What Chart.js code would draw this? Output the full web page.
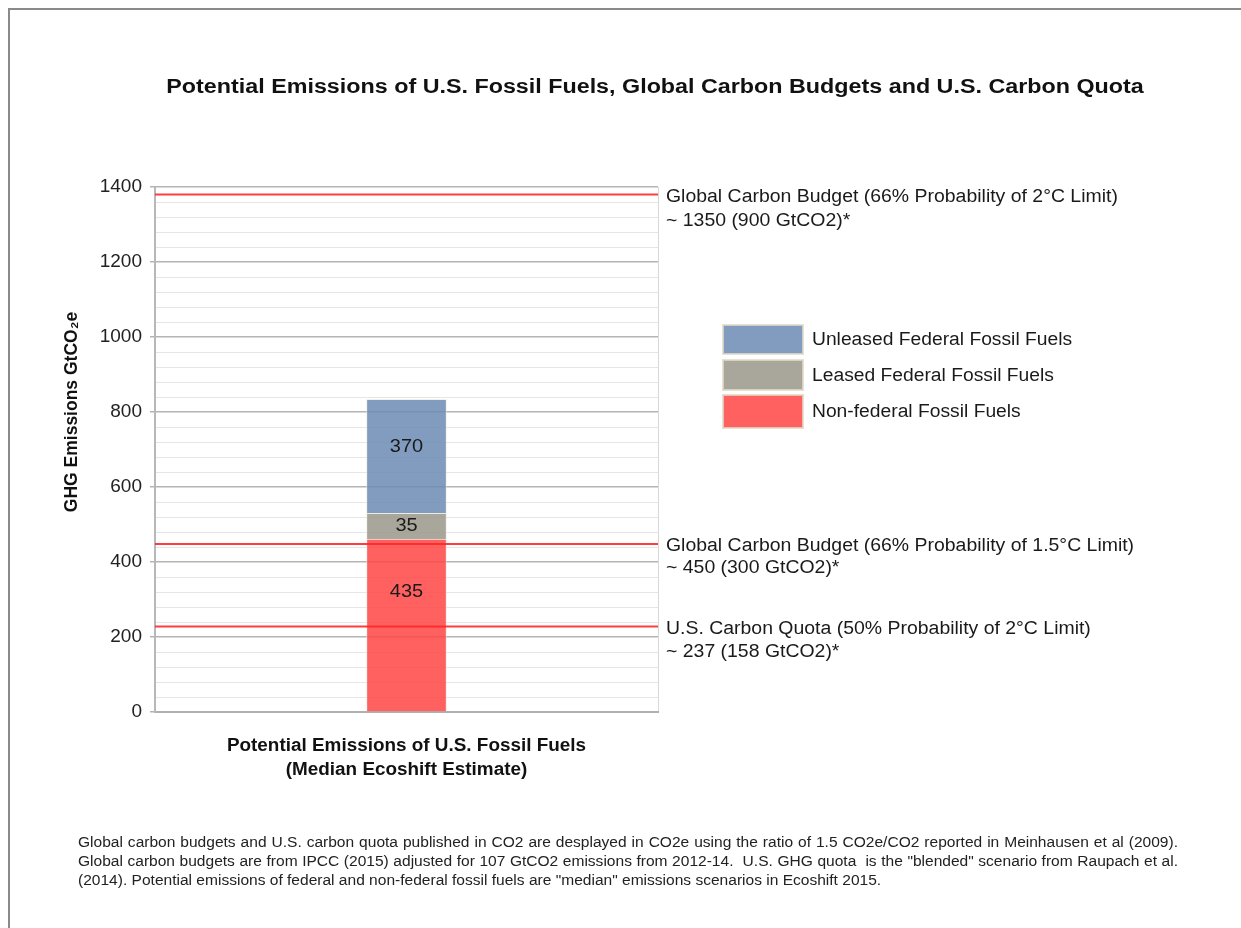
<!DOCTYPE html>
<html>
<head>
<meta charset="utf-8">
<script src="https://cdn.jsdelivr.net/npm/chart.js@4.4.0/dist/chart.umd.min.js"></script>
<style>
  html, body { margin: 0; padding: 0; background: #fff; }
  body { width: 1241px; height: 928px; position: relative; overflow: hidden; font-family: "Liberation Sans", Arial, sans-serif; }
  .frame { position: absolute; left: 8px; top: 8px; right: -10px; bottom: -10px; border-top: 2px solid #8a8a8a; border-left: 2px solid #8a8a8a; }
  #chart { position: absolute; left: 0; top: 0; }
  .note { position: absolute; left: 78px; top: 833px; width: 991px; font-size: 14px; line-height: 19px; color: #222; transform: scaleX(1.11); transform-origin: 0 0; }
  .note div { text-align: justify; text-align-last: justify; white-space: nowrap; }
  .note div.last { text-align-last: left; }
</style>
</head>
<body>
<div class="frame"></div>
<canvas id="chart" width="1241" height="928"></canvas>
<div class="note">
  <div>Global carbon budgets and U.S. carbon quota published in CO2 are desplayed in CO2e using the ratio of 1.5 CO2e/CO2 reported in Meinhausen et al (2009).</div>
  <div>Global carbon budgets are from IPCC (2015) adjusted for 107 GtCO2 emissions from 2012-14.&nbsp; U.S. GHG quota&nbsp; is the "blended" scenario from Raupach et al.</div>
  <div class="last">(2014). Potential emissions of federal and non-federal fossil fuels are "median" emissions scenarios in Ecoshift 2015.</div>
</div>
<script>
// donnees (hauteurs, etiquettes affichees sur les barres)
const categories = ['Potential Emissions of U.S. Fossil Fuels'];
const seriesNames = ['Non-federal Fossil Fuels', 'Leased Federal Fossil Fuels', 'Unleased Federal Fossil Fuels'];
const nonFederal = [461];
const leasedFederal = [69];
const unleasedFederal = [304];
const segmentLabels = ['435', '35', '370'];
const limitValues = [1380, 448, 228];
const limitLabels = [
  ['Global Carbon Budget (66% Probability of 2°C Limit)', '~ 1350 (900 GtCO2)*'],
  ['Global Carbon Budget (66% Probability of 1.5°C Limit)', '~ 450 (300 GtCO2)*'],
  ['U.S. Carbon Quota (50% Probability of 2°C Limit)', '~ 237 (158 GtCO2)*']
];
const yTicks = [0, 200, 400, 600, 800, 1000, 1200, 1400];

const FONT = '"Liberation Sans", Arial, sans-serif';
const barColors = ['rgba(255,68,68,0.85)', 'rgba(154,152,138,0.85)', 'rgba(107,139,179,0.85)'];

// lignes rouges : axe x2 lineaire cache de 0 a 1
const limitDatasets = limitValues.map((v, i) => ({
  type: 'line',
  label: limitLabels[i][0],
  data: [{ x: 0, y: v }, { x: 1, y: v }],
  xAxisID: 'x2',
  stack: 'limit' + i,
  borderColor: 'rgba(255,40,40,0.9)',
  borderWidth: 2,
  pointRadius: 0,
  fill: false,
  order: 0
}));

const barDatasets = [nonFederal, leasedFederal, unleasedFederal].map((d, i) => ({
  type: 'bar',
  label: seriesNames[i],
  data: d,
  backgroundColor: barColors[i],
  borderColor: 'rgba(235,230,215,0.6)',
  borderWidth: 1,
  barThickness: 80,
  grouped: false,
  order: 1
}));

// texte etire horizontalement
function txt(ctx, s, x, y, sx, align) {
  ctx.save();
  ctx.translate(x, y);
  ctx.scale(sx, 1);
  ctx.textAlign = align;
  ctx.fillText(s, 0, 0);
  ctx.restore();
}

const decor = {
  id: 'decor',
  afterDraw(chart) {
    const ctx = chart.ctx;
    const area = chart.chartArea;
    const y = chart.scales.y;
    ctx.save();
    ctx.fillStyle = '#111';
    ctx.textBaseline = 'middle';

    // titre
    ctx.font = 'bold 20px ' + FONT;
    txt(ctx, 'Potential Emissions of U.S. Fossil Fuels, Global Carbon Budgets and U.S. Carbon Quota', 655, 87, 1.165, 'center');

    // titre axe y
    ctx.save();
    ctx.translate(72, 412);
    ctx.rotate(-Math.PI / 2);
    ctx.font = 'bold 17.5px ' + FONT;
    ctx.textAlign = 'center';
    ctx.fillText('GHG Emissions GtCO\u2082e', 0, 0);
    ctx.restore();

    // titre axe x
    ctx.font = 'bold 18px ' + FONT;
    const cx = (area.left + area.right) / 2;
    txt(ctx, 'Potential Emissions of U.S. Fossil Fuels', cx, 746, 1.05, 'center');
    txt(ctx, '(Median Ecoshift Estimate)', cx, 770, 1.05, 'center');

    // valeurs des barres
    ctx.font = '18.5px ' + FONT;
    ctx.fillStyle = '#1a1a1a';
    const offs = [53, null, 48];
    [0, 1, 2].forEach((k) => {
      const el = chart.getDatasetMeta(limitValues.length + k).data[0];
      if (!el) return;
      const ty = offs[k] === null ? (el.y + el.base) / 2 : el.y + offs[k];
      txt(ctx, segmentLabels[k], el.x, ty, 1.08, 'center');
    });

    // etiquettes des limites
    ctx.fillStyle = '#1a1a1a';
    ctx.font = '18px ' + FONT;
    const lo = [[3, 24], [2, 22], [3, 23]];
    limitValues.forEach((v, i) => {
      const py = y.getPixelForValue(v);
      txt(ctx, limitLabels[i][0], area.right + 8, py + lo[i][0], 1.08, 'left');
      txt(ctx, limitLabels[i][1], area.right + 8, py + lo[i][0] + lo[i][1], 1.08, 'left');
    });

    // legende
    const leg = [
      { c: barColors[2], t: seriesNames[2], y0: 325, h: 29 },
      { c: barColors[1], t: seriesNames[1], y0: 360, h: 30 },
      { c: barColors[0], t: seriesNames[0], y0: 395, h: 33 }
    ];
    ctx.font = '18px ' + FONT;
    leg.forEach(l => {
      ctx.fillStyle = l.c;
      ctx.fillRect(723, l.y0, 80, l.h);
      ctx.strokeStyle = 'rgba(225,220,200,0.8)';
      ctx.lineWidth = 2;
      ctx.strokeRect(723, l.y0, 80, l.h);
      ctx.fillStyle = '#1a1a1a';
      txt(ctx, l.t, 812, l.y0 + l.h / 2 + 1, 1.07, 'left');
    });
    ctx.restore();
  }
};

new Chart(document.getElementById('chart'), {
  data: {
    labels: categories,
    datasets: [...limitDatasets, ...barDatasets]
  },
  options: {
    responsive: false,
    animation: false,
    devicePixelRatio: 1,
    layout: { padding: { top: 187, right: 583, bottom: 0, left: 0 } },
    plugins: {
      legend: { display: false },
      title: { display: false },
      tooltip: { enabled: false }
    },
    scales: {
      x: {
        stacked: true,
        offset: true,
        ticks: { display: false },
        grid: { color: '#d8d8d8', drawTicks: false, offset: true },
        border: { color: '#b0b0b0', width: 2 },
        afterFit: (s) => { s.height = 216; }
      },
      x2: {
        type: 'linear',
        display: false,
        min: 0,
        max: 1
      },
      y: {
        stacked: true,
        min: 0,
        max: 1400,
        ticks: {
          stepSize: 40,
          autoSkip: false,
          color: '#222',
          font: { family: FONT, size: 19 },
          padding: 8,
          callback: (v) => yTicks.includes(v) ? v : ''
        },
        grid: {
          color: (c) => yTicks.includes(c.tick.value) ? '#b4b4b4' : '#e6e6e6',
          lineWidth: (c) => yTicks.includes(c.tick.value) ? 1.5 : 1,
          tickColor: (c) => yTicks.includes(c.tick.value) ? '#b4b4b4' : 'rgba(0,0,0,0)',
          tickLength: 5
        },
        border: { color: '#b8b8b8', width: 2 },
        afterFit: (s) => { s.width = 155; }
      }
    }
  },
  plugins: [decor]
});
</script>
</body>
</html>
